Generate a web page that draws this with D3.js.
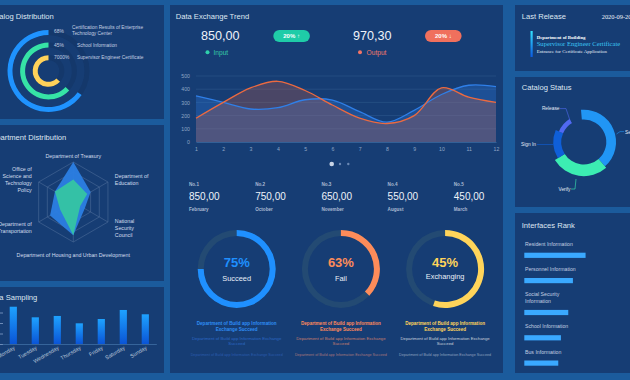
<!DOCTYPE html>
<html><head><meta charset="utf-8">
<script src="https://cdn.jsdelivr.net/npm/d3@7"></script>
<style>
body{margin:0;background:#1b5b9c;}
svg{display:block;font-family:"Liberation Sans",Arial,sans-serif;}
</style>
</head><body>
<svg id="c" width="630" height="380"></svg>
<script>
// ---------------- DATA ----------------
const distLabels = [["Certification Results of Enterprise","Technology Center"],["School Information"],["Supervisor Engineer Certificate"]];
const distPercent = ["68%","45%","7000%"];
const distArc = [0.65, 0.63, 0.63];           // share of circle covered

const deptAxes = [["Department of Treasury"],["Department of","Education"],["National","Security","Council"],["Department of Housing and Urban Development"],["Department of","Transportation"],["Office of","Science and","Technology","Policy"]];
const deptSeriesA = [100, 50, 33, 83, 67, 53];
const deptSeriesB = [56, 40, 20, 83, 38, 53];

const sampleDays = ["Monday","Tuesday","Wednesday","Thursday","Friday","Saturday","Sunday"];
const sampleValues = [355, 254, 267, 197, 238, 324, 283];
const sampleTicks = [0, 100, 200, 300];

const trendMonths = [1,2,3,4,5,6,7,8,9,10,11,12];
const trendInput  = [350, 300, 250, 260, 320, 318, 230, 150, 240, 360, 430, 420];
const trendOutput = [180, 300, 410, 460, 390, 280, 180, 140, 200, 410, 340, 300];
const trendTicks = [0, 100, 200, 300, 400, 500];
const inputTotal = 850.00, outputTotal = 970.30;
const changeLabels = ["20% \u2191", "20% \u2193"];

const rankNo = ["No.1","No.2","No.3","No.4","No.5"];
const rankValues = [850, 750, 650, 550, 450];
const rankMonths = ["February","October","November","August","March"];

const gaugeLabels = ["Succeed","Fail","Exchanging"];
const gaugePercent = [75, 63, 45];
const gaugeArc = [0.75, 0.37, 0.55];          // share of ring drawn
const gaugeNotes = [
  ["Department of Build app Information","Exchange Succeed"],
  ["Department of Build app Information Exchange","Succeed"],
  ["Department of Build app Information Exchange Succeed"]
];

const releaseDate = "2020-09-20";
const releaseLines = ["Department of Building","Supervisor Engineer Certificate","Entrance for Certificate Application"];

const statusNames = ["Search","Verify","Sign In","Release"];
const statusValues = [144, 99, 55, 35];
const statusScore = [78, 93, 64, 36];

const ifaceNames = [["Resident Information"],["Personnel Information"],["Social Security","Information"],["School Information"],["Bus Information"]];
const ifaceValues = [92, 73, 66, 55, 51];

// ---------------- DRAW ----------------
const svg = d3.select("#c");
const PANEL = "#163d74", TXT = "#dfe7f2", SUB = "#c4d0e2";
const fmt = v => d3.format(".2f")(v).replace(".", ",");
const defs = svg.append("defs");

svg.append("rect").attr("width",630).attr("height",380).attr("fill","#1b5b9c");
const panels = [[-20,5,184,114],[-20,125,184,156],[-20,287,184,86],[170,5,333,368],[515,5,130,66],[515,77,130,130],[515,213,130,160]];
svg.selectAll("rect.panel").data(panels).enter().append("rect").attr("class","panel")
  .attr("x",d=>d[0]).attr("y",d=>d[1]).attr("width",d=>d[2]).attr("height",d=>d[3]).attr("fill",PANEL);

function title(x,y,t){ svg.append("text").attr("x",x).attr("y",y).attr("fill",TXT).attr("font-size",7.6).text(t); }
title(-12.5,19,"Catalog Distribution");
title(-13.5,139.5,"Department Distribution");
title(-12.5,300,"Data Sampling");
title(175.7,18.5,"Data Exchange Trend");
title(521.7,18.5,"Last Release");
title(521.7,90,"Catalog Status");
title(521.7,227.7,"Interfaces Rank");

// ---- Catalog distribution (radial rings)
{
  const g = svg.append("g").attr("transform","translate(48.5,71)");
  const ringColors = ["#1f93ff","#36e3a6","#ffd25a"];
  distArc.forEach((s,i)=>{
    const ro = 41 - i*12.6, ri = ro - 5;
    g.append("path").attr("d", d3.arc().innerRadius(ri).outerRadius(ro).startAngle(0).endAngle(2*Math.PI)())
      .attr("fill","rgba(5,20,50,0.13)");
    g.append("path").attr("d", d3.arc().innerRadius(ri).outerRadius(ro).startAngle(0).endAngle(-s*2*Math.PI)())
      .attr("fill", ringColors[i]);
  });
  const ly = [32.5, 47, 59], lx = [72, 77, 77];
  distPercent.forEach((p,i)=>{
    svg.append("text").attr("x",54).attr("y",ly[i]).attr("fill",SUB).attr("font-size",4.9).text(p);
    distLabels[i].forEach((l,j)=>{
      const y0 = distLabels[i].length>1 ? ly[i]-3.2 : ly[i];
      svg.append("text").attr("x",lx[i]).attr("y",y0+j*5.6).attr("fill",SUB).attr("font-size",4.8).text(l);
    });
  });
}

// ---- Department radar
{
  const cx = 73.3, cy = 202, R = 40, n = deptAxes.length;
  const rs = d3.scaleLinear().domain([0,100]).range([0,R]);
  const ang = i => -Math.PI/2 + i*2*Math.PI/n;
  const g = svg.append("g");
  [1,2,3,4].forEach(k=>{
    const pts = d3.range(n).map(i=>[cx+Math.cos(ang(i))*R*k/4, cy+Math.sin(ang(i))*R*k/4]);
    g.append("polygon").attr("points",pts.join(" ")).attr("fill","none").attr("stroke","#4b6c98").attr("stroke-width",0.6);
  });
  d3.range(n).forEach(i=>{
    g.append("line").attr("x1",cx).attr("y1",cy).attr("x2",cx+Math.cos(ang(i))*R).attr("y2",cy+Math.sin(ang(i))*R)
      .attr("stroke","#4b6c98").attr("stroke-width",0.6);
  });
  const poly = vals => vals.map((v,i)=>[cx+Math.cos(ang(i))*rs(v), cy+Math.sin(ang(i))*rs(v)]).join(" ");
  g.append("polygon").attr("points",poly(deptSeriesA)).attr("fill","#2b7ee3").attr("fill-opacity",0.95);
  g.append("polygon").attr("points",poly(deptSeriesB)).attr("fill","#35c9a0").attr("fill-opacity",0.9);
  deptAxes.forEach((lines,i)=>{
    const dx = Math.cos(ang(i)), dy = Math.sin(ang(i));
    const gap = dy > 0.9 ? 11.5 : 8;
    const px = cx + dx*(R+gap), pcy = cy + dy*(R+gap) + 1.8;
    const anchor = Math.abs(dx) < 0.1 ? "middle" : (dx > 0 ? "start" : "end");
    lines.forEach((l,j)=>{
      svg.append("text").attr("x",px).attr("y",pcy - (lines.length-1)*3.5 + j*7 + 1.8)
        .attr("text-anchor",anchor).attr("fill","#d3deee").attr("font-size",5.3).text(l);
    });
  });
}

// ---- Data sampling bars
{
  const grad = defs.append("linearGradient").attr("id","barg").attr("x1",0).attr("y1",0).attr("x2",0).attr("y2",1);
  grad.append("stop").attr("offset","0%").attr("stop-color","#1ea2ff");
  grad.append("stop").attr("offset","100%").attr("stop-color","#0a54d6");
  const xs = d3.scalePoint().domain(sampleDays).range([2.3,156.3]).padding(0.5);
  const ys = d3.scaleLinear().domain([0,400]).range([344,302]);
  const g = svg.append("g");
  g.selectAll("rect").data(sampleValues).enter().append("rect")
    .attr("x",(d,i)=>xs(sampleDays[i])-3.6).attr("width",7.2)
    .attr("y",d=>ys(d)).attr("height",d=>344-ys(d)).attr("fill","url(#barg)");
  const ya = g.append("g").attr("transform","translate(3,0)").call(d3.axisLeft(ys).tickValues(sampleTicks).tickSize(3));
  ya.select(".domain").remove();
  ya.selectAll("line").attr("stroke","#6d8cb8");
  ya.selectAll("text").attr("fill","#9fb2cc").attr("font-size",5);
  const xa = g.append("g").attr("transform","translate(0,344)").call(d3.axisBottom(xs).tickSize(0));
  xa.select(".domain").attr("stroke","#3f6ea3").attr("stroke-width",0.8);
  xa.selectAll("text").attr("y",0).attr("dy",0).attr("transform","translate(1.5,5) rotate(-30)")
    .attr("text-anchor","end").attr("fill","#b6c4d8").attr("font-size",5.4).attr("font-family","Liberation Sans, Arial, sans-serif");
}

// ---- Data exchange trend header
{
  svg.append("text").attr("x",201).attr("y",40).attr("fill","#eef3fa").attr("font-size",12.6).text(fmt(inputTotal));
  svg.append("text").attr("x",353).attr("y",40).attr("fill","#eef3fa").attr("font-size",12.6).text(fmt(outputTotal));
  const pills = [[273.3,"#1fcca8"],[425,"#f0705d"]];
  pills.forEach((p,i)=>{
    svg.append("rect").attr("x",p[0]).attr("y",30).attr("width",36.6).attr("height",12).attr("rx",6).attr("fill",p[1]);
    svg.append("text").attr("x",p[0]+18.3).attr("y",38.2).attr("text-anchor","middle").attr("fill","#fff")
      .attr("font-size",6).attr("font-weight","bold").text(changeLabels[i]);
  });
  svg.append("circle").attr("cx",207.5).attr("cy",52.3).attr("r",2).attr("fill","#2fd0ab");
  svg.append("text").attr("x",213.5).attr("y",54.6).attr("fill","#37c9a6").attr("font-size",6.6).text("Input");
  svg.append("circle").attr("cx",360).attr("cy",52.3).attr("r",2).attr("fill","#f27466");
  svg.append("text").attr("x",366.6).attr("y",54.6).attr("fill","#f07a6b").attr("font-size",6.6).text("Output");
}

// ---- Trend chart
{
  const xs = d3.scalePoint().domain(trendMonths).range([196,496]);
  const ys = d3.scaleLinear().domain([0,500]).range([142,76]);
  const g = svg.append("g");
  g.selectAll("line.grid").data(trendTicks.slice(1)).enter().append("line")
    .attr("x1",196).attr("x2",496).attr("y1",d=>ys(d)).attr("y2",d=>ys(d))
    .attr("stroke","#2a5588").attr("stroke-width",0.7);
  const curve = d3.curveCatmullRom.alpha(0.5);
  const area = vals => d3.area().x((d,i)=>xs(trendMonths[i])).y0(142).y1(d=>ys(d)).curve(curve)(vals);
  const line = vals => d3.line().x((d,i)=>xs(trendMonths[i])).y(d=>ys(d)).curve(curve)(vals);
  g.append("path").attr("d",area(trendInput)).attr("fill","#2d7fe6").attr("fill-opacity",0.3);
  g.append("path").attr("d",area(trendOutput)).attr("fill","#e8643c").attr("fill-opacity",0.25);
  g.append("path").attr("d",line(trendInput)).attr("fill","none").attr("stroke","#2f7fe8").attr("stroke-width",1.3);
  g.append("path").attr("d",line(trendOutput)).attr("fill","none").attr("stroke","#ec6a40").attr("stroke-width",1.3);
  const ya = g.append("g").attr("transform","translate(196,0)").call(d3.axisLeft(ys).tickValues(trendTicks).tickSize(0).tickPadding(6));
  ya.select(".domain").remove();
  ya.selectAll("text").attr("fill","#8ea6c6").attr("font-size",5.2).attr("font-family","Liberation Sans, Arial, sans-serif");
  const xa = g.append("g").attr("transform","translate(0,142)").call(d3.axisBottom(xs).tickSize(0));
  xa.select(".domain").attr("stroke","#3a6aa0").attr("stroke-width",0.8);
  xa.selectAll("text").attr("y",5).attr("fill","#8ea6c6").attr("font-size",5.2).attr("font-family","Liberation Sans, Arial, sans-serif");
  svg.append("circle").attr("cx",331.7).attr("cy",164).attr("r",2.3).attr("fill","#c8d4e6");
  svg.append("circle").attr("cx",340).attr("cy",164).attr("r",1.2).attr("fill","#6a88b4");
  svg.append("circle").attr("cx",348.3).attr("cy",164).attr("r",1.2).attr("fill","#6a88b4");
}

// ---- Ranking stats
rankValues.forEach((v,i)=>{
  const x = 189 + i*66.2;
  svg.append("text").attr("x",x).attr("y",185.5).attr("fill","#a9bad2").attr("font-size",4.6).attr("font-weight","bold").text(rankNo[i]);
  svg.append("text").attr("x",x).attr("y",199.5).attr("fill","#eef3fa").attr("font-size",10).text(fmt(v));
  svg.append("text").attr("x",x).attr("y",211.3).attr("fill","#a9bad2").attr("font-size",4.6).attr("font-weight","bold").text(rankMonths[i]);
});

// ---- Gauges
{
  const cols = [
    {c:"#1f90ff", t:["#2f8ef5","#2c68c4","#2b5cae"]},
    {c:"#fd8c5a", t:["#ff8a5c","#c97d6e","#a8777c"]},
    {c:"#ffd45a", t:["#ffd45c","#c9d0dc","#8fa2bf"]}
  ];
  gaugeArc.forEach((s,i)=>{
    const cx = 236.7 + i*104.2, cy = 269;
    const g = svg.append("g").attr("transform",`translate(${cx},${cy})`);
    g.append("path").attr("d",d3.arc().innerRadius(33).outerRadius(39).startAngle(0).endAngle(2*Math.PI)()).attr("fill","#234a73");
    g.append("path").attr("d",d3.arc().innerRadius(33).outerRadius(39).startAngle(0).endAngle(s*2*Math.PI)()).attr("fill",cols[i].c);
    g.append("text").attr("y",-2.5).attr("text-anchor","middle").attr("fill",cols[i].c).attr("font-size",13).attr("font-weight","bold").text(gaugePercent[i]+"%");
    g.append("text").attr("y",i===2?10:12).attr("text-anchor","middle").attr("fill","#eaf0f8").attr("font-size",7.4).text(gaugeLabels[i]);
    const blocks = [{y:[324.7,330.5],fs:4.6,w:"bold"},{y:[339.8,345.2],fs:4.3,w:"normal"},{y:[356],fs:3.7,w:"normal"}];
    gaugeNotes.forEach((lines,b)=>{
      lines.forEach((l,j)=>{
        svg.append("text").attr("x",cx).attr("y",blocks[b].y[j]).attr("text-anchor","middle")
          .attr("fill",cols[i].t[b]).attr("font-size",blocks[b].fs).attr("font-weight",blocks[b].w).text(l);
      });
    });
  });
}

// ---- Last release
{
  const grad = defs.append("linearGradient").attr("id","relg").attr("x1",0).attr("y1",0).attr("x2",0).attr("y2",1);
  grad.append("stop").attr("offset","0%").attr("stop-color","#33e2ff");
  grad.append("stop").attr("offset","100%").attr("stop-color","#0c5ae0");
  svg.append("text").attr("x",601.7).attr("y",18.5).attr("fill","#eef3fa").attr("font-size",6.4).attr("font-family","Liberation Serif, serif").text(releaseDate);
  svg.append("rect").attr("x",530.5).attr("y",31).attr("width",2.2).attr("height",26).attr("fill","url(#relg)");
  svg.append("text").attr("x",536.7).attr("y",38.8).attr("fill","#ffffff").attr("font-size",4.8).attr("font-weight","bold").attr("font-family","Liberation Serif, serif").text(releaseLines[0]);
  svg.append("text").attr("x",536.7).attr("y",46.2).attr("fill","#3cc6f4").attr("font-size",6.6).attr("font-family","Liberation Serif, serif").text(releaseLines[1]);
  svg.append("text").attr("x",536.7).attr("y",53).attr("fill","#e6edf7").attr("font-size",4.9).attr("font-family","Liberation Serif, serif").text(releaseLines[2]);
}

// ---- Catalog status donut
{
  const cx = 583.8, cy = 142;
  const colors = ["#2196f5","#3cedb2","#0f5fd8","#5169f2"];
  const rOut = d3.scaleLinear().domain([0,100]).range([22.5,35]);
  const pie = d3.pie().sort(null).value(d=>d).startAngle(-5*Math.PI/180).endAngle(328*Math.PI/180);
  const arcs = pie(statusValues);
  const g = svg.append("g").attr("transform",`translate(${cx},${cy})`);
  arcs.forEach((a,i)=>{
    g.append("path").attr("d",d3.arc().innerRadius(22.5).outerRadius(rOut(statusScore[i]))(a)).attr("fill",colors[i]);
  });
  const leaders = [
    {pts:[[616.5,134],[620,131.6],[624,131.6]], tx:625, ty:133.5, anchor:"start"},
    {pts:[[576,179],[575,189],[571,189]], tx:570.5, ty:191, anchor:"end"},
    {pts:[[553,144.5],[537,144.5]], tx:536, ty:146.3, anchor:"end"},
    {pts:[[571,123.5],[566,108.6],[560,108.6]], tx:559.5, ty:110.4, anchor:"end"}
  ];
  leaders.forEach((L,i)=>{
    svg.append("polyline").attr("points",L.pts.join(" ")).attr("fill","none").attr("stroke",colors[i]).attr("stroke-width",0.6);
    svg.append("text").attr("x",L.tx).attr("y",L.ty).attr("text-anchor",L.anchor).attr("fill","#e3eaf5").attr("font-size",4.8).text(statusNames[i]);
  });
}

// ---- Interfaces rank
{
  const ws = d3.scaleLinear().domain([0,100]).range([0,66.6]);
  let y = 245.7;
  ifaceNames.forEach((lines,i)=>{
    lines.forEach((l,j)=>{
      svg.append("text").attr("x",525).attr("y",y+j*6.6).attr("fill","#c3cfe1").attr("font-size",5.2).text(l);
    });
    const by = y + (lines.length-1)*6.6 + 7;
    svg.append("rect").attr("x",524.3).attr("y",by).attr("width",ws(ifaceValues[i])).attr("height",5.2).attr("fill","#3aa9ff");
    y = by + 18.3;
  });
}
</script>
</body></html>
